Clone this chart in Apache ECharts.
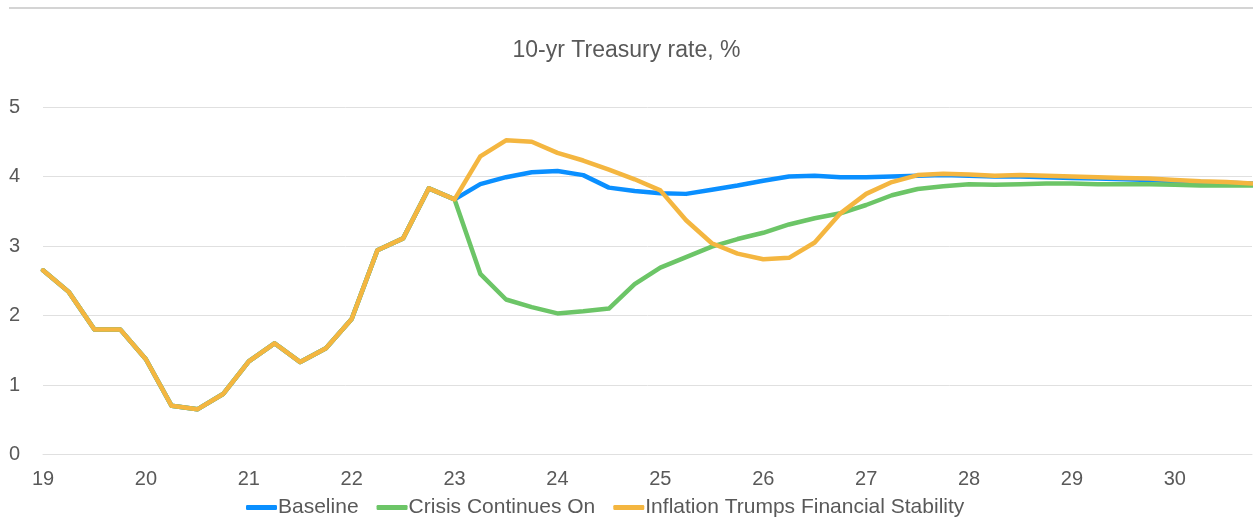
<!DOCTYPE html>
<html>
<head>
<meta charset="utf-8">
<script src="https://cdn.jsdelivr.net/npm/echarts@6/dist/echarts.min.js"></script>
<style>
html,body{margin:0;padding:0;background:#fff;}
#chart{width:1253px;height:518px;}
</style>
</head>
<body>
<div id="chart"></div>
<script>
// Quarterly categories 2019Q1 .. 2030Q4
const categories = [
  '19Q1','19Q2','19Q3','19Q4','20Q1','20Q2','20Q3','20Q4',
  '21Q1','21Q2','21Q3','21Q4','22Q1','22Q2','22Q3','22Q4',
  '23Q1','23Q2','23Q3','23Q4','24Q1','24Q2','24Q3','24Q4',
  '25Q1','25Q2','25Q3','25Q4','26Q1','26Q2','26Q3','26Q4',
  '27Q1','27Q2','27Q3','27Q4','28Q1','28Q2','28Q3','28Q4',
  '29Q1','29Q2','29Q3','29Q4','30Q1','30Q2','30Q3','30Q4'
];
// Shared history 19Q1 .. 23Q1
const history = [2.65, 2.34, 1.80, 1.80, 1.37, 0.70, 0.65, 0.87, 1.34, 1.60, 1.33, 1.53, 1.95, 2.94, 3.11, 3.83, 3.67];
// Scenario paths 23Q2 .. 30Q4
const baseline = [3.89, 3.99, 4.06, 4.08, 4.02, 3.84, 3.79, 3.76, 3.75, 3.81, 3.87, 3.94, 4.00, 4.01, 3.99, 3.99, 4.00, 4.01, 4.02, 4.01, 4.00, 4.00, 3.99, 3.98, 3.97, 3.96, 3.95, 3.93, 3.92, 3.91, 3.90];
const crisis = [2.60, 2.23, 2.12, 2.03, 2.06, 2.10, 2.45, 2.69, 2.84, 2.99, 3.10, 3.19, 3.31, 3.40, 3.47, 3.59, 3.73, 3.82, 3.86, 3.89, 3.88, 3.89, 3.90, 3.90, 3.89, 3.89, 3.89, 3.88, 3.87, 3.87, 3.87];
const inflation = [4.29, 4.52, 4.50, 4.34, 4.23, 4.10, 3.96, 3.80, 3.37, 3.04, 2.89, 2.81, 2.83, 3.05, 3.47, 3.75, 3.92, 4.02, 4.04, 4.03, 4.01, 4.02, 4.01, 4.00, 3.99, 3.98, 3.97, 3.95, 3.93, 3.92, 3.90];
const seriesNames = ['Baseline', 'Crisis Continues On', 'Inflation Trumps Financial Stability'];
const yTicks = [0, 1, 2, 3, 4, 5];
const titleText = '10-yr Treasury rate, %';

const FONT = '"Liberation Sans", Arial, sans-serif';
const TXT = '#595959';
const colors = ['#0a8fff', '#6cc567', '#f4b640'];

const chart = echarts.init(document.getElementById('chart'), null, {renderer: 'canvas'});
const mk = (name, proj, color, z) => ({
  name: name,
  type: 'line',
  data: history.concat(proj),
  symbol: 'none',
  smooth: false,
  z: z,
  lineStyle: {width: 4.5, color: color, cap: 'round', join: 'round'},
  itemStyle: {color: color}
});

chart.setOption({
  animation: false,
  backgroundColor: '#fff',
  textStyle: {fontFamily: FONT},
  title: {
    text: titleText,
    left: 'center',
    top: 34,
    textStyle: {fontFamily: FONT, fontSize: 23, fontWeight: 'normal', color: TXT}
  },
  graphic: [{
    type: 'line',
    shape: {x1: 9, y1: 8, x2: 1253, y2: 8},
    style: {stroke: '#d4d4d4', lineWidth: 2}
  }],
  legend: {
    data: seriesNames,
    left: 241,
    top: 492,
    icon: 'roundRect',
    itemWidth: 31,
    itemHeight: 5,
    itemGap: 18,
    textStyle: {fontFamily: FONT, fontSize: 21, color: TXT, padding: [0, 0, 0, -4]}
  },
  grid: {left: 43, right: 1, top: 107, bottom: 63.5, containLabel: false},
  xAxis: {
    type: 'category',
    data: categories,
    boundaryGap: false,
    axisLine: {show: true, lineStyle: {color: '#e0e0e0', width: 1}},
    axisTick: {show: false},
    splitLine: {show: false},
    axisLabel: {
      interval: 3,
      margin: 15,
      fontSize: 20,
      color: TXT,
      fontFamily: FONT,
      formatter: v => v.slice(0, 2)
    }
  },
  yAxis: {
    type: 'value',
    min: yTicks[0],
    max: yTicks[yTicks.length - 1],
    interval: 1,
    axisLine: {show: false},
    axisTick: {show: false},
    splitLine: {lineStyle: {color: '#e0e0e0', width: 1}},
    axisLabel: {margin: 23, fontSize: 20, color: TXT, fontFamily: FONT}
  },
  series: [
    mk(seriesNames[0], baseline, colors[0], 2),
    mk(seriesNames[1], crisis, colors[1], 3),
    mk(seriesNames[2], inflation, colors[2], 4)
  ]
});
</script>
</body>
</html>
